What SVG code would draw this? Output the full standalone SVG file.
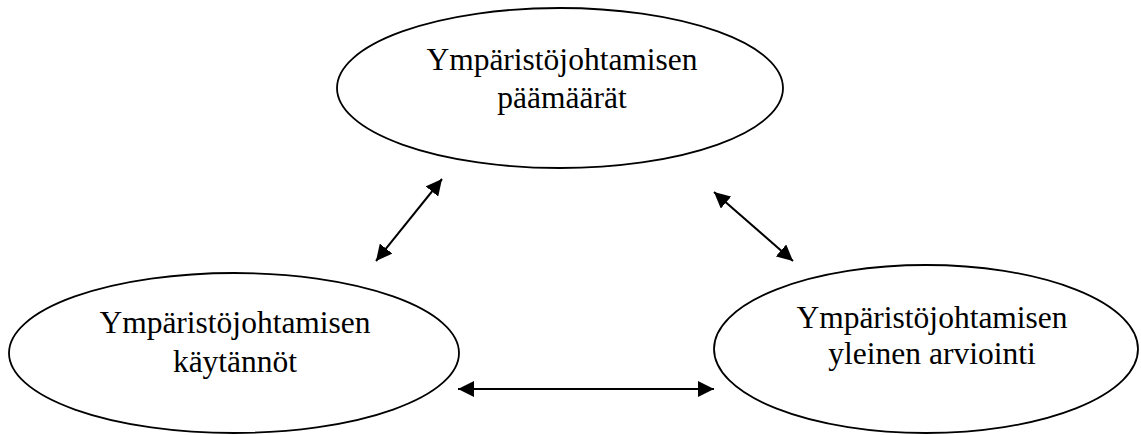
<svg xmlns="http://www.w3.org/2000/svg" width="1141" height="435" viewBox="0 0 1141 435">
<style>
.node ellipse{fill:#fff;stroke:#000;stroke-width:1.8}
.node text{font-family:"Liberation Serif","Times New Roman",serif;font-size:31.5px;fill:#000;text-anchor:middle}
.conn line{stroke:#000;stroke-width:2}
</style>
<defs>
<marker id="ah" markerUnits="userSpaceOnUse" markerWidth="16" markerHeight="16" refX="16" refY="8" orient="auto-start-reverse" viewBox="0 0 16 16">
<path d="M0,0 L16,8 L0,16 Z" fill="#000"/>
</marker>
</defs>
<rect width="1141" height="435" fill="#fff"/>
<g id="node-paamaarat" class="node">
<ellipse cx="560" cy="88" rx="223" ry="80"/>
<text x="562" y="70">Ympäristöjohtamisen</text>
<text x="562" y="108">päämäärät</text>
</g>
<g id="node-kaytannot" class="node">
<ellipse cx="234" cy="353" rx="225" ry="80"/>
<text x="235" y="333">Ympäristöjohtamisen</text>
<text x="235" y="372">käytännöt</text>
</g>
<g id="node-arviointi" class="node">
<ellipse cx="926" cy="349" rx="212" ry="84"/>
<text x="932" y="328">Ympäristöjohtamisen</text>
<text x="932" y="364">yleinen arviointi</text>
</g>
<g id="connectors" class="conn">
<line x1="376" y1="261" x2="442" y2="179" marker-start="url(#ah)" marker-end="url(#ah)"/>
<line x1="714" y1="192" x2="793" y2="261" marker-start="url(#ah)" marker-end="url(#ah)"/>
<line x1="458" y1="389" x2="714" y2="389" marker-start="url(#ah)" marker-end="url(#ah)"/>
</g>
</svg>
